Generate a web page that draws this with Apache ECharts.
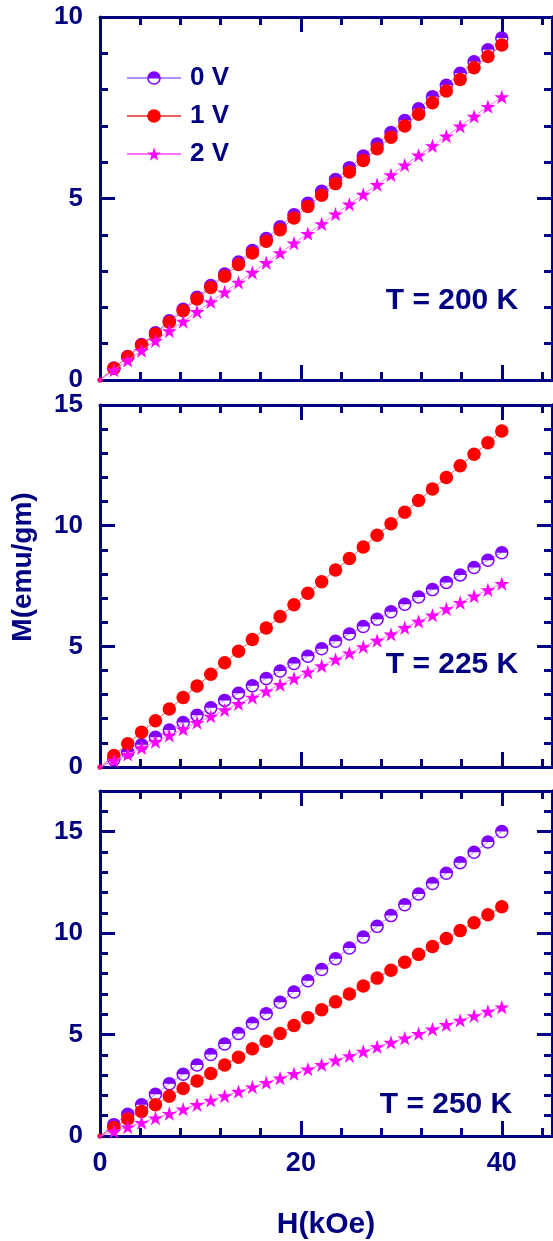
<!DOCTYPE html>
<html><head><meta charset="utf-8">
<script src="https://cdn.jsdelivr.net/npm/echarts@6/dist/echarts.min.js"></script>
<style>html,body{margin:0;padding:0;background:#fff}#c{width:553px;height:1241px}</style>
</head><body><div id="c"></div>
<script>
// ---- data ----
const H = [0,1.38,2.76,4.14,5.52,6.9,8.28,9.66,11.03,12.41,13.79,15.17,16.55,17.93,19.31,20.69,22.07,23.45,24.83,26.21,27.59,28.97,30.34,31.72,33.1,34.48,35.86,37.24,38.62,40];
// T = 200 K
const P1_0V = [0,0.33,0.65,0.98,1.30,1.63,1.95,2.28,2.60,2.92,3.25,3.57,3.90,4.22,4.55,4.87,5.20,5.52,5.85,6.17,6.50,6.82,7.15,7.47,7.80,8.12,8.45,8.77,9.10,9.42];
const P1_1V = [0,0.32,0.64,0.96,1.27,1.59,1.91,2.23,2.55,2.86,3.18,3.50,3.82,4.14,4.46,4.78,5.09,5.41,5.73,6.05,6.37,6.69,7.00,7.32,7.64,7.96,8.28,8.60,8.91,9.23];
const P1_2V = [0,0.27,0.54,0.81,1.08,1.35,1.61,1.88,2.15,2.42,2.69,2.96,3.23,3.50,3.77,4.03,4.30,4.57,4.84,5.11,5.38,5.65,5.92,6.19,6.45,6.72,6.99,7.26,7.53,7.80];
// T = 225 K
const P2_0V = [0,0.31,0.61,0.92,1.23,1.53,1.84,2.14,2.45,2.76,3.06,3.37,3.67,3.98,4.29,4.59,4.90,5.21,5.51,5.82,6.12,6.43,6.74,7.04,7.35,7.65,7.96,8.27,8.57,8.88];
const P2_1V = [0,0.48,0.96,1.44,1.92,2.40,2.88,3.36,3.84,4.32,4.80,5.28,5.76,6.24,6.72,7.20,7.68,8.16,8.64,9.12,9.60,10.08,10.56,11.04,11.52,12.00,12.48,12.96,13.44,13.92];
const P2_2V = [0,0.26,0.52,0.79,1.05,1.31,1.57,1.84,2.10,2.36,2.62,2.88,3.14,3.41,3.67,3.93,4.19,4.46,4.72,4.98,5.24,5.50,5.77,6.03,6.29,6.55,6.81,7.08,7.34,7.60];
// T = 250 K
const P3_0V = [0,0.56,1.07,1.54,2.06,2.57,3.04,3.50,4.02,4.53,5.05,5.56,6.03,6.59,7.10,7.65,8.20,8.73,9.26,9.80,10.33,10.86,11.39,11.92,12.44,12.95,13.47,13.98,14.49,15.00];
const P3_1V = [0,0.42,0.84,1.21,1.54,1.96,2.34,2.71,3.08,3.50,3.88,4.30,4.67,5.05,5.44,5.83,6.22,6.61,7.00,7.39,7.78,8.17,8.56,8.95,9.34,9.73,10.12,10.51,10.90,11.30];
const P3_2V = [0,0.22,0.44,0.66,0.88,1.10,1.32,1.54,1.75,1.97,2.19,2.41,2.63,2.85,3.07,3.29,3.51,3.73,3.95,4.17,4.39,4.61,4.82,5.04,5.26,5.48,5.70,5.92,6.14,6.35];

const SERIES_NAMES = ['0 V','1 V','2 V'];
const PANELS = [[P1_0V,P1_1V,P1_2V],[P2_0V,P2_1V,P2_2V],[P3_0V,P3_1V,P3_2V]];
const T_LABELS = ['T = 200 K','T = 225 K','T = 250 K'];
const X_MAX = 45;
const X_LABELS = [0,20,40];
const X_MAJOR = [20,40];
const Y_MAX = [10,15,17];
const Y_LABELS = [[0,5,10],[0,5,10,15],[0,5,10,15]];
const Y_MAJOR = [[5,10],[5,10,15],[5,10,15]];

// ---- style ----
const NAVY = '#000080';
const FONT = '"Liberation Sans", Arial, sans-serif';
const HALF = 'path://M0,50 A50,50 0 0 1 100,50 A50,50 0 0 1 0,50 Z M11,50 A39,39 0 0 0 89,50 Z';
const STAR = 'path://M50,0 L61.23,34.55 L97.55,34.55 L68.17,55.9 L79.39,90.45 L50,69.1 L20.61,90.45 L31.83,55.9 L2.45,34.55 L38.77,34.55 Z';
const SYM = [HALF,'circle',STAR];
const COL = ['#7F00FF','#FF0000','#FF00FF'];
const LINECOL = ['#B58CFF','#E86060','#FF70FF'];
const SIZE = [13.5,13.5,15];

const grids = [
  {left:100,right:1,top:17,height:363},
  {left:100,right:1,top:405,height:362},
  {left:100,right:1,top:791,height:364}
];
const tickStyle = {color:NAVY,width:3};
const xAxes = [], yAxes = [], series = [];
for (let g=0; g<3; g++){
  const bx = {type:'value',gridIndex:g,min:0,max:X_MAX,splitLine:{show:false}};
  xAxes.push(Object.assign({},bx,{position:'bottom',interval:4,
    axisLine:{show:true,onZero:false,lineStyle:{color:NAVY,width:3}},
    axisTick:{show:true,inside:true,length:8,lineStyle:tickStyle},
    axisLabel:{show:g===2,customValues:X_LABELS,color:NAVY,fontSize:27,fontWeight:'bold',fontFamily:FONT,margin:14},
    name:g===2?'H(kOe)':'',nameLocation:'middle',nameGap:74,
    nameTextStyle:{color:NAVY,fontSize:30,fontWeight:'bold',fontFamily:FONT}}));
  xAxes.push(Object.assign({},bx,{position:'bottom',
    axisLine:{show:false,onZero:false},
    axisTick:{show:true,inside:true,length:15,customValues:X_MAJOR,lineStyle:tickStyle},
    axisLabel:{show:false}}));
  xAxes.push(Object.assign({},bx,{position:'top',interval:4,
    axisLine:{show:true,onZero:false,lineStyle:{color:NAVY,width:3}},
    axisTick:{show:true,inside:true,length:8,lineStyle:tickStyle},
    axisLabel:{show:false}}));
  xAxes.push(Object.assign({},bx,{position:'top',
    axisLine:{show:false,onZero:false},
    axisTick:{show:true,inside:true,length:15,customValues:X_MAJOR,lineStyle:tickStyle},
    axisLabel:{show:false}}));

  const by = {type:'value',gridIndex:g,min:0,max:Y_MAX[g],splitLine:{show:false}};
  yAxes.push(Object.assign({},by,{position:'left',interval:1,
    axisLine:{show:true,onZero:false,lineStyle:{color:NAVY,width:3}},
    axisTick:{show:true,inside:true,length:8,lineStyle:tickStyle},
    axisLabel:{show:true,customValues:Y_LABELS[g],color:NAVY,fontSize:26,fontWeight:'bold',fontFamily:FONT,margin:17}}));
  yAxes.push(Object.assign({},by,{position:'left',
    axisLine:{show:false,onZero:false},
    axisTick:{show:true,inside:true,length:15,customValues:Y_MAJOR[g],lineStyle:tickStyle},
    axisLabel:{show:false}}));
  yAxes.push(Object.assign({},by,{position:'right',interval:1,
    axisLine:{show:true,onZero:false,lineStyle:{color:NAVY,width:3}},
    axisTick:{show:true,inside:true,length:8,lineStyle:tickStyle},
    axisLabel:{show:false}}));
  yAxes.push(Object.assign({},by,{position:'right',
    axisLine:{show:false,onZero:false},
    axisTick:{show:true,inside:true,length:15,customValues:Y_MAJOR[g],lineStyle:tickStyle},
    axisLabel:{show:false}}));

  for (let s=0; s<3; s++){
    const sz = SIZE[s];
    series.push({
      type:'line',name:SERIES_NAMES[s],xAxisIndex:g*4,yAxisIndex:g*4,
      data:H.map((h,i)=>[h,PANELS[g][s][i]]),
      symbol:SYM[s],
      symbolSize:function(v){ return v[0]===0 ? 5 : sz; },
      symbolKeepAspect:true,showSymbol:true,
      itemStyle:{color:COL[s],borderWidth:0},
      lineStyle:{color:LINECOL[s],width:1},
      emphasis:{disabled:true},animation:false,clip:true,z:2+s
    });
  }
}

const graphics = [
  {type:'text',x:23,y:567,rotation:Math.PI/2,style:{text:'M(emu/gm)',align:'center',verticalAlign:'middle',font:'bold 28px '+FONT,fill:NAVY}},
  {type:'text',x:452,y:301,style:{text:T_LABELS[0],align:'center',verticalAlign:'middle',font:'bold 30px '+FONT,fill:NAVY}},
  {type:'text',x:452,y:665,style:{text:T_LABELS[1],align:'center',verticalAlign:'middle',font:'bold 30px '+FONT,fill:NAVY}},
  {type:'text',x:446,y:1105,style:{text:T_LABELS[2],align:'center',verticalAlign:'middle',font:'bold 30px '+FONT,fill:NAVY}}
];

const chart = echarts.init(document.getElementById('c'),null,{renderer:'canvas'});
chart.setOption({
  animation:false,
  backgroundColor:'#fff',
  grid:grids,xAxis:xAxes,yAxis:yAxes,series:series,
  legend:{show:true,orient:'vertical',left:121,top:60,itemWidth:54,itemHeight:17,itemGap:12,
    selectedMode:false,data:SERIES_NAMES,
    textStyle:{color:NAVY,fontSize:26,fontWeight:'bold',fontFamily:FONT,lineHeight:26,padding:[0,0,0,4]}},
  graphic:graphics
});
</script></body></html>
